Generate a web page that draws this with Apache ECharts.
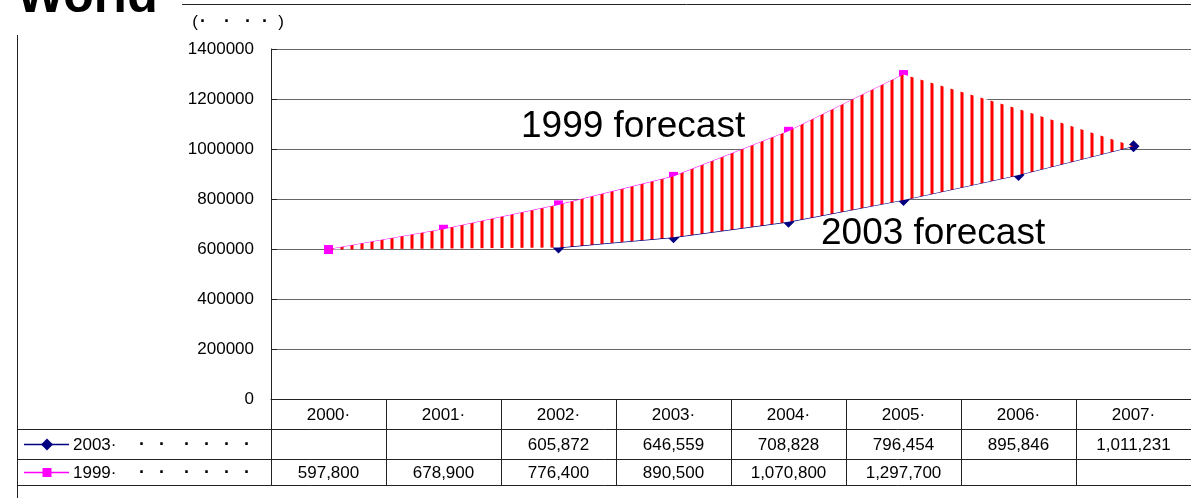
<!DOCTYPE html>
<html>
<head>
<meta charset="utf-8">
<script src="https://cdn.jsdelivr.net/npm/echarts@6/dist/echarts.min.js"></script>
<style>
  html, body { margin: 0; padding: 0; background: #fff; }
  #chart { width: 1191px; height: 498px; }
</style>
</head>
<body>
<div id="chart"></div>
<script>
// Categories and forecast values (table rows)
const categories = ['2000·', '2001·', '2002·', '2003·', '2004·', '2005·', '2006·', '2007·'];
const forecast2003 = [null, null, 605872, 646559, 708828, 796454, 895846, 1011231];
const forecast1999 = [597800, 678900, 776400, 890500, 1070800, 1297700, null, null];
// Edges of the hatched gap between the two forecasts
const bandLower = [597800, 601800, 605872, 646559, 708828, 796454, 895846, 1011231];
const bandUpper = [597800, 678900, 776400, 890500, 1070800, 1297700, 1160000, 1011231];
// Value axis
const yMin = 0, yMax = 1400000, yStep = 200000;
// Row captions
const rowNames = ['2003·', '1999·'];

const FONT = "'Liberation Sans', Arial, sans-serif";
const NAVY = '#000080';
const MAGENTA = '#ff00ff';

// Vertical red stripes on white for the gap
const stripe = document.createElement('canvas');
stripe.width = 10; stripe.height = 10;
(function () {
  const c = stripe.getContext('2d');
  c.fillStyle = '#ffffff'; c.fillRect(0, 0, 10, 10);
  c.fillStyle = '#ff7a7a'; c.fillRect(0, 0, 1, 10); c.fillRect(3, 0, 1, 10);
  c.fillStyle = '#ff0000'; c.fillRect(1, 0, 2, 10);
})();

const bandDiff = bandUpper.map((v, i) => v - bandLower[i]);

const GRID = { left: 271, right: 0, top: 49, bottom: 99 };

const chart = echarts.init(document.getElementById('chart'), null, { renderer: 'canvas' });
chart.setOption({
  animation: false,
  backgroundColor: '#fff',
  grid: GRID,
  xAxis: {
    type: 'category',
    data: categories,
    boundaryGap: true,
    axisLine: { lineStyle: { color: '#222', width: 1 } },
    axisTick: { show: false },
    axisLabel: { show: false },
    splitLine: { show: false }
  },
  yAxis: {
    type: 'value',
    min: yMin, max: yMax, interval: yStep,
    axisLine: { show: true, lineStyle: { color: '#222', width: 1 } },
    axisTick: { show: true, inside: true, length: 6, lineStyle: { color: '#222' } },
    axisLabel: { margin: 17, color: '#000', fontSize: 17, fontFamily: FONT, formatter: v => String(v) },
    splitLine: { show: true, lineStyle: { color: '#666', width: 1 } }
  },
  series: [
    {
      name: '2003', type: 'line', data: forecast2003, z: 2,
      symbol: 'diamond', symbolSize: 12,
      itemStyle: { color: NAVY }, lineStyle: { color: NAVY, width: 1.2 }
    },
    {
      name: '1999', type: 'line', data: forecast1999, z: 2,
      symbol: 'rect', symbolSize: 9,
      itemStyle: { color: MAGENTA }, lineStyle: { color: MAGENTA, width: 1 }
    },
    {
      name: 'base', type: 'line', stack: 'gap', data: bandLower, z: 3,
      symbol: 'none', silent: true, lineStyle: { width: 0, opacity: 0 }
    },
    {
      name: 'gap', type: 'line', stack: 'gap', data: bandDiff, z: 3,
      symbol: 'none', silent: true, lineStyle: { width: 0, opacity: 0 },
      areaStyle: { color: { image: stripe, repeat: 'repeat' }, opacity: 1 }
    }
  ]
});

// Data table, frame, title and callouts
function buildGraphics() {
  const g = [];
  const txt = (x, y, text, opt) => g.push({
    type: 'text', x, y, silent: true,
    style: Object.assign({ text, fill: '#000', font: '17px ' + FONT, textAlign: 'center', textVerticalAlign: 'middle' }, opt || {})
  });
  const line = (x1, y1, x2, y2, color, w) => g.push({
    type: 'line', silent: true,
    shape: { x1, y1, x2, y2 },
    style: { stroke: color || '#222', lineWidth: w || 1 }
  });

  const x0 = chart.convertToPixel({ xAxisIndex: 0 }, 0);
  const x1 = chart.convertToPixel({ xAxisIndex: 0 }, 1);
  const colW = x1 - x0;
  const left = x0 - colW / 2;
  const axisY = 399.5;
  const rows = [axisY, 429.5, 459.5, 485.5];
  const W = 1191;

  // frame
  line(182, 4.5, W, 4.5, '#222');
  line(17.5, 35, 17.5, 498, '#222');

  // table rules
  for (let r = 1; r < rows.length; r++) line(17.5, rows[r], W, rows[r], '#222');
  for (let i = 0; i <= categories.length; i++) {
    const x = Math.round(left + i * colW) + 0.5;
    line(x, axisY, x, rows[3], '#222');
  }

  // header and cells
  categories.forEach((c, i) => {
    const cx = chart.convertToPixel({ xAxisIndex: 0 }, i);
    txt(cx, (rows[0] + rows[1]) / 2 + 1, c);
    [forecast2003, forecast1999].forEach((arr, r) => {
      if (arr[i] != null) txt(cx, (rows[r + 1] + rows[r + 2]) / 2 + 1, arr[i].toLocaleString('en-US'));
    });
  });

  // row captions with series keys
  const dots = [142, 162, 187, 207, 227, 247];
  [[NAVY, 'diamond'], [MAGENTA, 'rect']].forEach(([col, sym], r) => {
    const cy = (rows[r + 1] + rows[r + 2]) / 2;
    line(24, cy, 69, cy, col, 1.5);
    if (sym === 'diamond') {
      g.push({ type: 'polygon', silent: true, shape: { points: [[47, cy - 6], [53, cy], [47, cy + 6], [41, cy]] }, style: { fill: col } });
    } else {
      g.push({ type: 'rect', silent: true, shape: { x: 42.5, y: cy - 4.5, width: 9, height: 9 }, style: { fill: col } });
    }
    txt(73, cy + 1, rowNames[r], { textAlign: 'left' });
    dots.forEach(d => txt(d, cy + 1, '·', { font: 'bold 18px ' + FONT }));
  });

  // title and unit
  txt(17, 23, 'World', { textAlign: 'left', textVerticalAlign: 'bottom', font: 'bold 50px ' + FONT });
  txt(195, 22, '(');
  [203, 227, 248, 265].forEach(d => txt(d, 22, '·', { font: 'bold 18px ' + FONT }));
  txt(281, 22, ')');

  // callouts
  txt(521, 127, '1999 forecast', { textAlign: 'left', font: '37px ' + FONT });
  txt(821, 234, '2003 forecast', { textAlign: 'left', font: '37px ' + FONT });
  return g;
}

chart.setOption({ graphic: { elements: buildGraphics() } });
</script>
</body>
</html>
